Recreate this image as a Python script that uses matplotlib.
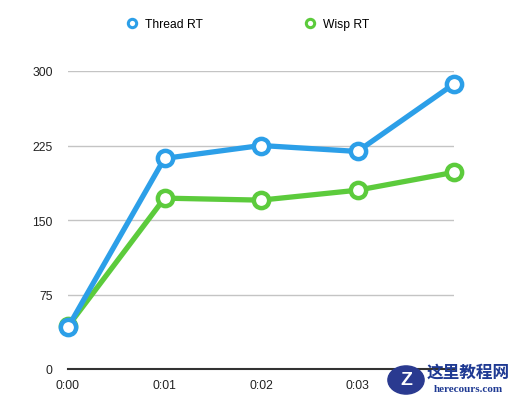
import matplotlib
matplotlib.use("Agg")
import matplotlib.pyplot as plt
from matplotlib.lines import Line2D

categories = ["0:00", "0:01", "0:02", "0:03", "0:04"]
thread_rt = [42, 212, 225, 219, 287]
wisp_rt = [43, 172, 170, 180, 198]
y_ticks = [0, 75, 150, 225, 300]

BLUE = "#2c9fe8"
GREEN = "#5ccb3c"

plt.rcParams['font.family'] = ['Liberation Sans', 'DejaVu Sans']
fig = plt.figure(figsize=(5.17, 4.02), dpi=100)
ax = fig.add_axes([68/517, 1-370/402, (454-68)/517, (370-72)/402])
x = list(range(len(categories)))

ax.plot(x, wisp_rt, color=GREEN, lw=3.8, marker='o', ms=11, mfc='white', mec=GREEN, mew=3.2, zorder=3, clip_on=False)
ax.plot(x, thread_rt, color=BLUE, lw=3.8, marker='o', ms=11, mfc='white', mec=BLUE, mew=3.2, zorder=4, clip_on=False)

ax.set_xlim(0, 4)
ax.set_ylim(0, 300)
ax.set_yticks(y_ticks)
ax.set_yticklabels([str(v) for v in y_ticks])
ax.set_xticks(x)
ax.set_xticklabels(categories[:4] + [""])
for v in y_ticks[1:]:
    ax.axhline(v, color="#c4c4c4", lw=1.0, zorder=1)
ax.axhline(0, color="#333333", lw=1.5, zorder=2, clip_on=False)
for s in ax.spines.values():
    s.set_visible(False)
ax.tick_params(axis='both', length=0, labelsize=8.7, colors="#222222")
ax.tick_params(axis='y', pad=11)
ax.tick_params(axis='x', pad=7)

handles = [Line2D([], [], color=BLUE, lw=0, marker='o', ms=6, mfc='white', mec=BLUE, mew=2.2),
           Line2D([], [], color=GREEN, lw=0, marker='o', ms=6, mfc='white', mec=GREEN, mew=2.2)]
fig.legend(handles, ["Thread RT", "Wisp RT"], loc='center', bbox_to_anchor=(247.5/517, 1-25/402),
           ncol=2, frameon=False, fontsize=8.7, columnspacing=8.35, handletextpad=0.6, handlelength=1.0)

# watermark
fig.text(427/517, 1-373/402, "这里教程网", family=['Noto Sans CJK SC'], fontsize=12, fontweight='bold',
         color="#1f3a93", ha='left', va='center')
fig.text(434/517, 1-390/402, "herecours.com", family=['Liberation Serif'], fontsize=8, fontweight='bold',
         color="#1f3a93", ha='left', va='center')
circ = matplotlib.patches.Circle((406/517, 1-381/402), 0.035, transform=fig.transFigure, color="#2a3a90", zorder=5)
fig.patches.append(circ)
fig.text(406/517, 1-381/402, "Z", fontsize=14, fontweight='bold', color='white', ha='center', va='center', zorder=6)

fig.savefig("out.png", dpi=100, facecolor='white')
